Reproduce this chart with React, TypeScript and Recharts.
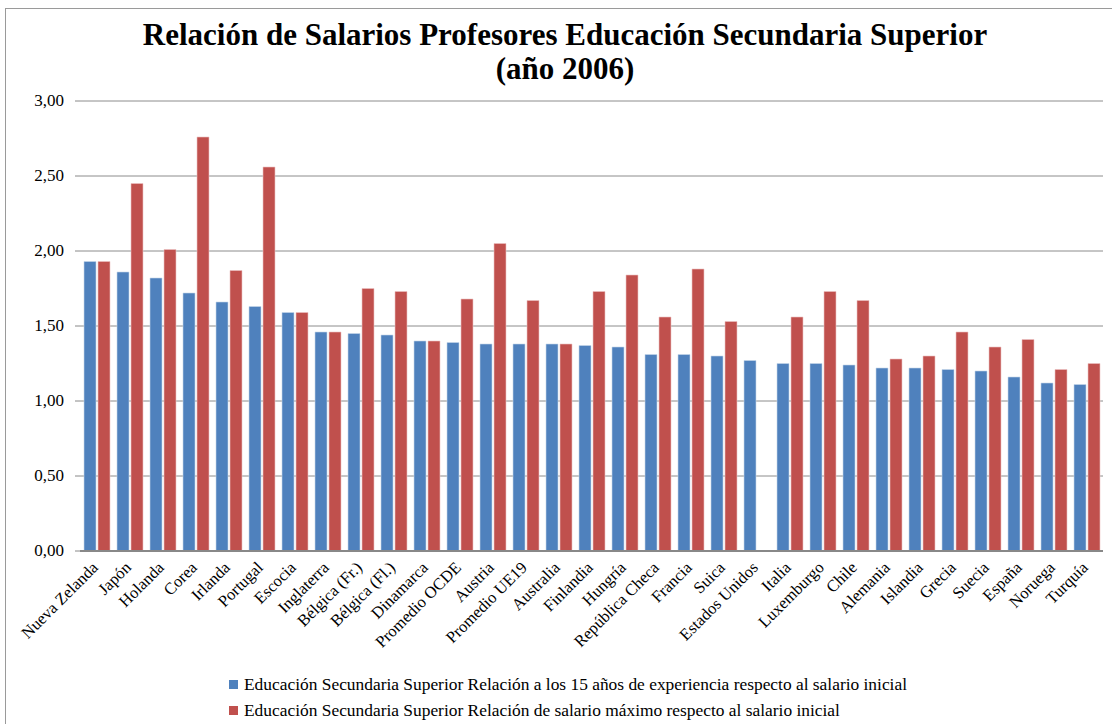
import { Bar, BarChart, CartesianGrid, XAxis, YAxis } from "recharts";

const countries = [
  "Nueva Zelanda", "Japón", "Holanda", "Corea", "Irlanda", "Portugal", "Escocia",
  "Inglaterra", "Bélgica (Fr.)", "Bélgica (Fl.)", "Dinamarca", "Promedio OCDE",
  "Austria", "Promedio UE19", "Australia", "Finlandia", "Hungría", "República Checa",
  "Francia", "Suica", "Estados Unidos", "Italia", "Luxemburgo", "Chile", "Alemania",
  "Islandia", "Grecia", "Suecia", "España", "Noruega", "Turquía",
];

const ratio15Years = [
  1.93, 1.86, 1.82, 1.72, 1.66, 1.63, 1.59, 1.46, 1.45, 1.44, 1.40, 1.39, 1.38,
  1.38, 1.38, 1.37, 1.36, 1.31, 1.31, 1.30, 1.27, 1.25, 1.25, 1.24, 1.22, 1.22,
  1.21, 1.20, 1.16, 1.12, 1.11,
];

const ratioMax: (number | null)[] = [
  1.93, 2.45, 2.01, 2.76, 1.87, 2.56, 1.59, 1.46, 1.75, 1.73, 1.40, 1.68, 2.05,
  1.67, 1.38, 1.73, 1.84, 1.56, 1.88, 1.53, null, 1.56, 1.73, 1.67, 1.28, 1.30,
  1.46, 1.36, 1.41, 1.21, 1.25,
];

const yTicks = [0, 0.5, 1, 1.5, 2, 2.5, 3];

const seriesNames = [
  "Educación Secundaria Superior Relación a los 15 años de experiencia respecto al salario inicial",
  "Educación Secundaria Superior Relación de salario máximo respecto al salario inicial",
];

const BLUE = "#4F81BD";
const RED = "#C0504D";
const FONT = "'Liberation Serif', serif";

const data = countries.map((name, i) => ({
  name,
  a: ratio15Years[i],
  b: ratioMax[i],
}));

function CountryTick({ x, y, payload }: any) {
  return (
    <g transform={`translate(${x - 1},${y + 6})`}>
      <text
        transform="rotate(-45)"
        textAnchor="end"
        dy={5}
        fontFamily={FONT}
        fontSize={16.5}
        fill="#000"
      >
        {payload.value}
      </text>
    </g>
  );
}

function ValueTick({ y, payload }: any) {
  return (
    <text x={64} y={y} dy={5} textAnchor="end" fontFamily={FONT} fontSize={17} fill="#000">
      {payload.value.toFixed(2).replace(".", ",")}
    </text>
  );
}

export default function App() {
  return (
    <div
      style={{
        position: "absolute",
        left: 0,
        top: 0,
        width: 1112,
        height: 724,
        background: "#fff",
        overflow: "hidden",
        fontFamily: FONT,
      }}
    >
      <div
        style={{
          position: "absolute",
          left: 5,
          top: 8,
          width: 1120,
          height: 730,
          border: "1px solid #9a9a9a",
        }}
      />
      <div
        style={{
          position: "absolute",
          left: 0,
          top: 18,
          width: 1130,
          textAlign: "center",
          fontWeight: "bold",
          fontSize: 31,
          lineHeight: "34px",
        }}
      >
        Relación de Salarios Profesores Educación Secundaria Superior
        <br />
        (año 2006)
      </div>
      <BarChart
        width={1112}
        height={724}
        data={data}
        margin={{ top: 101, right: 9, left: 0, bottom: 53 }}
        barCategoryGap={4}
        barGap={2}
        style={{ position: "absolute", left: 0, top: 0 }}
      >
        <CartesianGrid vertical={false} stroke="#8c8c8c" strokeWidth={1} />
        <XAxis
          dataKey="name"
          interval={0}
          height={120}
          tickLine={false}
          axisLine={{ stroke: "#888", strokeWidth: 2 }}
          tick={<CountryTick />}
        />
        <YAxis
          width={80}
          domain={[0, 3]}
          ticks={yTicks}
          axisLine={false}
          tickLine={{ stroke: "#888" }}
          tickSize={5}
          tick={<ValueTick />}
        />
        <Bar dataKey="a" fill={BLUE} stroke="#c8d6ea" strokeWidth={0.6} isAnimationActive={false} />
        <Bar dataKey="b" fill={RED} stroke="#ecc3c2" strokeWidth={0.6} isAnimationActive={false} />
      </BarChart>
      {seriesNames.map((label, i) => (
        <div
          key={label}
          style={{
            position: "absolute",
            left: 229,
            top: 674 + i * 26,
            display: "flex",
            alignItems: "center",
            fontSize: 17.4,
            whiteSpace: "nowrap",
          }}
        >
          <span
            style={{
              display: "inline-block",
              width: 9,
              height: 9,
              background: i === 0 ? BLUE : RED,
              marginRight: 6,
            }}
          />
          {label}
        </div>
      ))}
    </div>
  );
}
